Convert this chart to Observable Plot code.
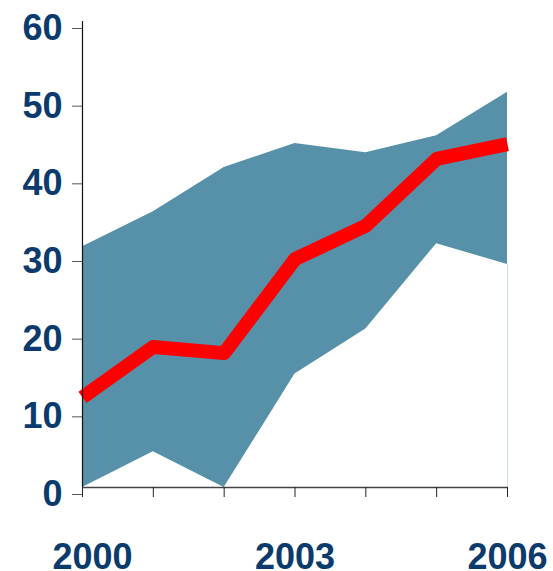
<!DOCTYPE html>
<html>
<head>
<meta charset="utf-8">
<script src="https://cdn.jsdelivr.net/npm/d3@7"></script>
<script src="https://cdn.jsdelivr.net/npm/@observablehq/plot@0.6"></script>
<style>
  html, body { margin: 0; padding: 0; background: #fff; }
  #chart svg { display: block; }
</style>
</head>
<body>
<div id="chart"></div>
<script>
const years = [2000, 2001, 2002, 2003, 2004, 2005, 2006];
const upper = [31.0, 35.5, 41.2, 44.3, 43.1, 45.3, 50.9];
const lower = [0, 4.6, 0, 14.6, 20.4, 31.4, 28.7];
const central = [11.6, 18.1, 17.3, 29.4, 33.7, 42.3, 44.2];
const yTicks = [0, 10, 20, 30, 40, 50, 60];
const xLabelTicks = [2000, 2003, 2006];

const data = years.map((year, i) => ({year, lo: lower[i], hi: upper[i], mid: central[i]}));
const last = data[data.length - 1];

const labelColor = "#0b3a6c";
const font = "'Liberation Sans', Arial, sans-serif";

const chart = Plot.plot({
  width: 553,
  height: 571,
  marginLeft: 82,
  marginRight: 46,
  marginTop: 21,
  marginBottom: 84,
  style: {fontFamily: font, background: "#fff"},
  x: {domain: [2000, 2006], axis: null, label: null},
  y: {domain: [0, 60], axis: null, label: null},
  marks: [
    Plot.areaY(data, {x: "year", y1: "lo", y2: "hi", fill: "#5691a9", curve: "linear"}),
    Plot.ruleX([last], {x: "year", y1: 0, y2: "lo", stroke: "#c6dce6", strokeWidth: 1}),
    Plot.line(data, {x: "year", y: "mid", stroke: "#ff0000", strokeWidth: 14, strokeLinejoin: "round", strokeLinecap: "butt"}),
    Plot.ruleX([2000], {y1: 0, y2: 60, stroke: "#111", strokeWidth: 1.2}),
    Plot.ruleY([0], {x1: 2000, x2: 2006, stroke: "#444", strokeWidth: 1.5}),
    Plot.axisY({ticks: yTicks, label: null, tickSize: 10, tickPadding: 10, stroke: "#555", fontSize: 36, fontWeight: "bold", fill: labelColor, dy: 7, tickFormat: d => String(d)}),
    Plot.axisX({ticks: years, label: null, tickSize: 10, stroke: "#222", tickFormat: () => ""}),
    Plot.axisX({ticks: [xLabelTicks[0]], label: null, tickSize: 0, tickPadding: 56, fontSize: 36, fontWeight: "bold", fill: labelColor, dx: 10, tickFormat: d => String(d)}),
    Plot.axisX({ticks: xLabelTicks.slice(1), label: null, tickSize: 0, tickPadding: 56, fontSize: 36, fontWeight: "bold", fill: labelColor, tickFormat: d => String(d)})
  ]
});
document.getElementById("chart").appendChild(chart);
</script>
</body>
</html>
